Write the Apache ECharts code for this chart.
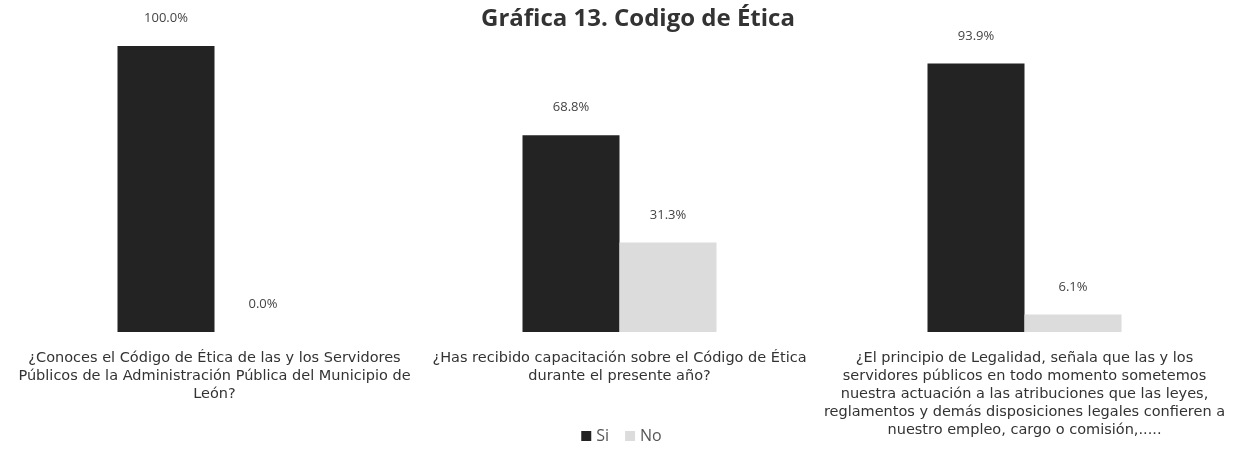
<!DOCTYPE html>
<html>
<head>
<meta charset="utf-8">
<script src="https://cdn.jsdelivr.net/npm/echarts@6/dist/echarts.min.js"></script>
<style>html,body{margin:0;padding:0;background:#fff}#c{width:1243px;height:457px}</style>
</head>
<body>
<div id="c"></div>
<script>
const categories = [
  "¿Conoces el Código de Ética de las y los Servidores\nPúblicos de la Administración Pública del Municipio de\nLeón?",
  "¿Has recibido capacitación sobre el Código de Ética\ndurante el presente año?",
  "¿El principio de Legalidad, señala que las y los\nservidores públicos en todo momento sometemos\nnuestra actuación a las atribuciones que las leyes,\nreglamentos y demás disposiciones legales confieren a\nnuestro empleo, cargo o comisión,....."
];
const siValues = [100.0, 68.8, 93.9];
const noValues = [0.0, 31.3, 6.1];
const seriesNames = ["Si", "No"];

const chart = echarts.init(document.getElementById('c'));
const labelCfg = {
  show: true, position: 'top', distance: 21,
  formatter: p => p.value.toFixed(1) + '%',
  color: '#444', fontSize: 13, fontFamily: 'Open Sans'
};
chart.setOption({
  animation: false,
  title: {
    text: 'Gráfica 13. Codigo de Ética',
    left: 476, top: 2,
    textStyle: { fontFamily: 'Open Sans', fontWeight: 'bold', fontSize: 24, color: '#333' }
  },
  legend: {
    bottom: 8, left: 'center',
    itemWidth: 10, itemHeight: 10, itemGap: 16,
    icon: 'rect',
    textStyle: { fontFamily: 'Open Sans', fontSize: 16, color: '#555' },
    data: seriesNames
  },
  grid: { left: 12, right: 16, top: 46, bottom: 125 },
  xAxis: {
    type: 'category', data: categories,
    axisLine: { show: false }, axisTick: { show: false },
    axisLabel: {
      interval: 0, margin: 17, color: '#333', fontSize: 14.5,
      fontFamily: 'DejaVu Sans', lineHeight: 18
    }
  },
  yAxis: { type: 'value', min: 0, max: 100, show: false, splitLine: { show: false } },
  series: [
    { name: seriesNames[0], type: 'bar', data: siValues, barWidth: 97, barGap: '0%',
      itemStyle: { color: '#232323' }, label: labelCfg },
    { name: seriesNames[1], type: 'bar', data: noValues, barWidth: 97,
      itemStyle: { color: '#dcdcdc' }, label: labelCfg }
  ]
});
</script>
</body>
</html>
